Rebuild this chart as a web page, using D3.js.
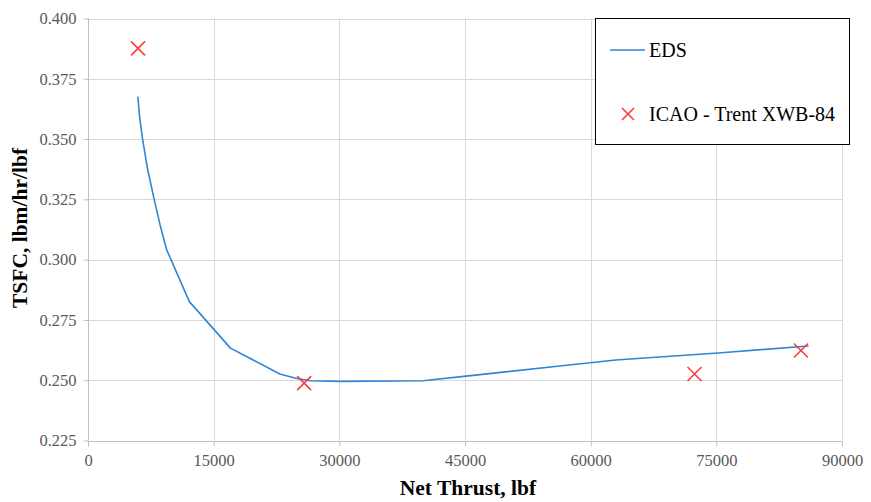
<!DOCTYPE html>
<html>
<head>
<meta charset="utf-8">
<script src="https://cdn.jsdelivr.net/npm/d3@7"></script>
<style>
  html, body { margin: 0; padding: 0; background: #ffffff; }
  svg { display: block; }
</style>
</head>
<body>
<svg id="chart" width="871" height="502"></svg>
<script>
// ---- data ----
const edsThrust = [5950, 6160, 6500, 7100, 7900, 8590, 9400, 12100, 17000, 22900, 24800, 26500, 30200, 40000, 45400, 56300, 63000, 75600, 86000];
const edsTsfc   = [0.3676, 0.3592, 0.3503, 0.3377, 0.3250, 0.3146, 0.3040, 0.2826, 0.2633, 0.2526, 0.2508, 0.2498, 0.2495, 0.2498, 0.2518, 0.2559, 0.2584, 0.2614, 0.2642];
const icaoThrust = [5970, 25800, 72400, 85100];
const icaoTsfc   = [0.3876, 0.2488, 0.2526, 0.2623];
const xTicks = [0, 15000, 30000, 45000, 60000, 75000, 90000];
const yTicks = [0.225, 0.250, 0.275, 0.300, 0.325, 0.350, 0.375, 0.400];
const seriesNames = ["EDS", "ICAO - Trent XWB-84"];
const xTitle = "Net Thrust, lbf";
const yTitle = "TSFC, lbm/hr/lbf";

(function () {
// ---- layout ----
const svg = d3.select("#chart");
const pl = 88, pr = 842, pt = 18.5, pb = 440.5;
const font = "'Liberation Serif', 'Times New Roman', serif";

const x = d3.scaleLinear().domain([0, 90000]).range([pl, pr]);
const y = d3.scaleLinear().domain([0.225, 0.400]).range([pb, pt]);

// gridlines
svg.append("g").selectAll("line").data(xTicks.slice(1)).join("line")
  .attr("x1", d => Math.round(x(d)) + 0.5).attr("x2", d => Math.round(x(d)) + 0.5)
  .attr("y1", pt).attr("y2", pb)
  .attr("stroke", "#d9d9d9").attr("stroke-width", 1);
svg.append("g").selectAll("line").data(yTicks.slice(1)).join("line")
  .attr("x1", pl).attr("x2", pr)
  .attr("y1", d => Math.round(y(d)) + 0.5).attr("y2", d => Math.round(y(d)) + 0.5)
  .attr("stroke", "#d9d9d9").attr("stroke-width", 1);

// axes
const xAxis = d3.axisBottom(x).tickValues(xTicks).tickSize(5).tickPadding(8).tickFormat(d3.format("d"));
const gx = svg.append("g").attr("transform", `translate(0,${Math.round(pb) + 0.5})`).call(xAxis);
gx.select(".domain").attr("stroke", "#bfbfbf").attr("d", `M${pl},0H${pr}`);
gx.selectAll(".tick line").attr("stroke", "#bfbfbf");
gx.selectAll(".tick text").attr("font-family", font).attr("font-size", 16.5).attr("fill", "#595959");

const yAxis = d3.axisLeft(y).tickValues(yTicks).tickSize(5).tickPadding(7).tickFormat(d3.format(".3f"));
const gy = svg.append("g").attr("transform", `translate(${Math.round(pl) + 0.5},0)`).call(yAxis);
gy.select(".domain").attr("stroke", "#bfbfbf").attr("d", `M0,${pt}V${pb}`);
gy.selectAll(".tick line").attr("stroke", "#bfbfbf");
gy.selectAll(".tick text").attr("font-family", font).attr("font-size", 16.5).attr("fill", "#595959");

// EDS line
const edsData = edsThrust.map((t, i) => [t, edsTsfc[i]]);
svg.append("path")
  .datum(edsData)
  .attr("fill", "none")
  .attr("stroke", "#2f86d4")
  .attr("stroke-width", 1.6)
  .attr("stroke-linejoin", "round")
  .attr("d", d3.line().x(d => x(d[0])).y(d => y(d[1])).curve(d3.curveLinear));

// ICAO markers
const cross = (g, s) => g.append("path")
  .attr("d", `M${-s},${-s}L${s},${s}M${-s},${s}L${s},${-s}`)
  .attr("stroke", "#ff3b3b").attr("stroke-width", 1.6).attr("fill", "none");
const icaoData = icaoThrust.map((t, i) => [t, icaoTsfc[i]]);
svg.append("g").selectAll("g").data(icaoData).join("g")
  .attr("transform", d => `translate(${x(d[0])},${y(d[1])})`)
  .each(function () { cross(d3.select(this), 7); });

// axis titles
svg.append("text")
  .attr("x", 468).attr("y", 495)
  .attr("text-anchor", "middle")
  .attr("font-family", font).attr("font-weight", "bold").attr("font-size", 21.5)
  .attr("fill", "#000").text(xTitle);
svg.append("text")
  .attr("transform", `translate(27,${228}) rotate(-90)`)
  .attr("text-anchor", "middle")
  .attr("font-family", font).attr("font-weight", "bold").attr("font-size", 21.5)
  .attr("fill", "#000").text(yTitle);

// legend
const lg = svg.append("g");
lg.append("rect").attr("x", 595.5).attr("y", 18.5).attr("width", 254).attr("height", 126)
  .attr("fill", "#fff").attr("stroke", "#000").attr("stroke-width", 1);
lg.append("line").attr("x1", 610).attr("x2", 645).attr("y1", 50).attr("y2", 50)
  .attr("stroke", "#2f86d4").attr("stroke-width", 1.6);
lg.append("text").attr("x", 649).attr("y", 57)
  .attr("font-family", font).attr("font-size", 20).attr("fill", "#000").text(seriesNames[0]);
cross(lg.append("g").attr("transform", "translate(628,114)"), 6);
lg.append("text").attr("x", 649).attr("y", 121)
  .attr("font-family", font).attr("font-size", 20).attr("fill", "#000").text(seriesNames[1]);
})();
</script>
</body>
</html>
